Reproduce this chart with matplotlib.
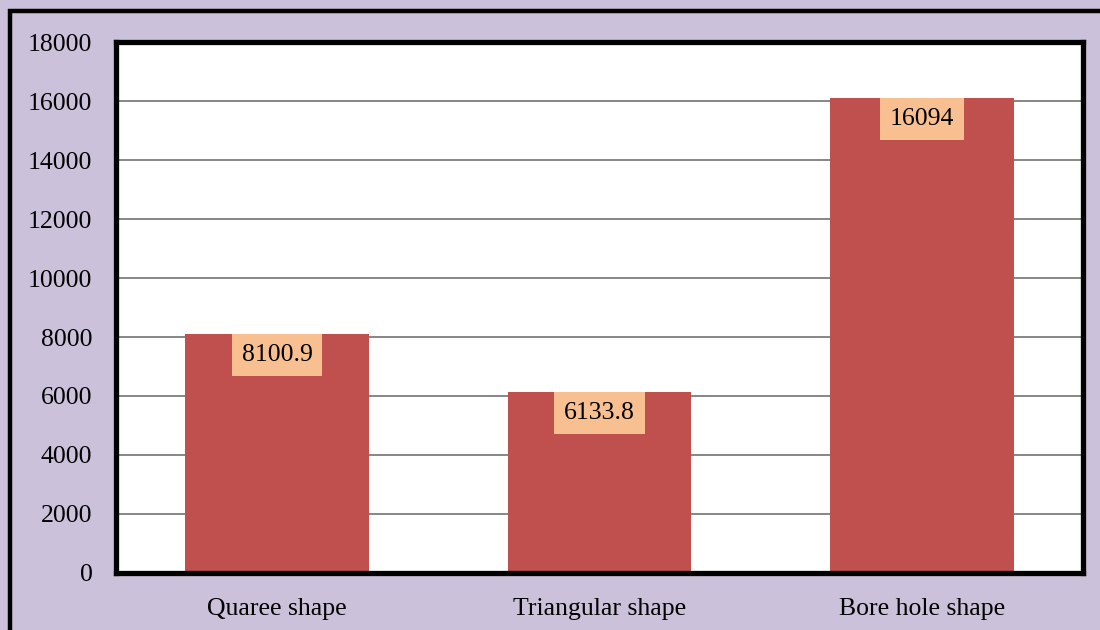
import matplotlib.pyplot as plt
from matplotlib.patches import Rectangle

categories = ["Quaree shape", "Triangular shape", "Bore hole shape"]
values = [8100.9, 6133.8, 16094]
value_labels = ["8100.9", "6133.8", "16094"]
yticks = [0, 2000, 4000, 6000, 8000, 10000, 12000, 14000, 16000, 18000]

plt.rcParams['font.family'] = ['Liberation Serif', 'DejaVu Serif']

fig = plt.figure(figsize=(11, 6.3), dpi=100, facecolor='#CCC1DA')
ax = fig.add_axes([0.1055, 0.0905, 0.879, 0.8428])
ax.set_facecolor('white')

x = range(len(categories))
ax.bar(x, values, width=0.57, color='#C0504D', zorder=2)

for xi, v, lab in zip(x, values, value_labels):
    ax.annotate(lab, xy=(xi, v), xytext=(0, -7), textcoords='offset points',
                ha='center', va='top', fontsize=18.5,
                bbox=dict(boxstyle='square,pad=0.38', fc='#F8C090', ec='none'),
                zorder=3)

ax.set_xlim(-0.5, 2.5)
ax.set_ylim(0, 18000)
ax.set_yticks(yticks)
ax.set_yticklabels([str(t) for t in yticks], fontsize=18.5)
ax.set_xticks(list(x))
ax.set_xticklabels(categories, fontsize=18.5)
ax.tick_params(length=0)
ax.tick_params(axis='y', pad=17)
ax.tick_params(axis='x', pad=18)
ax.yaxis.grid(True, color='#868686', linewidth=1.4, zorder=1)
ax.set_axisbelow(True)
for s in ax.spines.values():
    s.set_linewidth(3.8)
    s.set_color('black')

# outer frame around the chart area
fig.patches.append(Rectangle((0.009, -0.05), 1.2, 1.032, transform=fig.transFigure,
                             fill=False, ec='black', lw=3.2, clip_on=False))

fig.savefig('out.png', dpi=100, facecolor=fig.get_facecolor())
